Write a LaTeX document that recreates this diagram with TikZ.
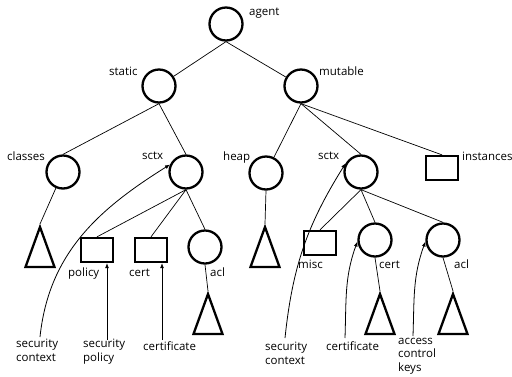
\documentclass[tikz,border=0pt]{standalone}
\usepackage{fontspec}
\setmainfont{Open Sans}
\usetikzlibrary{shapes.geometric, arrows.meta}

\begin{document}
\begin{tikzpicture}[
    x=1pt, y=-1pt,
    >={Latex[length=5pt,width=4pt]},
    obj/.style={circle, draw, line width=2.3pt, minimum size=33pt, inner sep=0pt},
    leaf/.style={rectangle, draw, line width=2.3pt, minimum width=32pt, minimum height=24pt, inner sep=0pt},
    tri/.style={isosceles triangle, isosceles triangle stretches, shape border rotate=90, draw, line width=2.3pt, minimum width=29pt, minimum height=40pt, inner sep=0pt, anchor=apex},
    tag/.style={inner sep=0pt, anchor=mid west, font=\fontsize{11.5}{14}\selectfont},
    note/.style={inner sep=0pt, anchor=west, align=left, font=\fontsize{11.5}{14}\selectfont},
    edge/.style={line width=0.7pt},
    link/.style={->, line width=0.8pt}
]
\useasboundingbox (0,0) rectangle (512,376);

% 1. top levels
\node[obj] (agent) at (226,24) {};
\node[obj] (static) at (159,86) {};
\node[obj] (mutable) at (301,86) {};

% 2. third level
\node[obj] (classes) at (63,172) {};
\node[obj] (sctxA) at (186,172) {};
\node[obj] (heap) at (266,173) {};
\node[obj] (sctxB) at (361,172) {};
\node[leaf] (inst) at (442,168) {};

% 3. under static sctx
\node[tri] (triClasses) at (40,224) {};
\node[leaf] (policy) at (97,250) {};
\node[leaf] (certA) at (151,250) {};
\node[obj] (aclA) at (205,247) {};
\node[tri] (triAclA) at (208,291) {};

% 4. under mutable sctx
\node[tri] (triHeap) at (265,224) {};
\node[leaf] (misc) at (320,243) {};
\node[obj] (certB) at (375,240) {};
\node[obj] (aclB) at (443,240) {};
\node[tri] (triCertB) at (380,291) {};
\node[tri] (triAclB) at (453,291) {};

% 5. names
\node[tag] (agentL) at (249,13) {agent};
\node[tag] (staticL) at (109,73) {static};
\node[tag] (mutableL) at (319,73) {mutable};
\node[tag] (classesL) at (7,158) {classes};
\node[tag] (sctxAL) at (142,157) {sctx};
\node[tag] (heapL) at (223,158) {heap};
\node[tag] (sctxBL) at (318,157) {sctx};
\node[tag] (instL) at (462,158) {instances};
\node[tag] (policyL) at (68,274) {policy};
\node[tag] (certAL) at (129,274) {cert};
\node[tag] (aclAL) at (210,274) {acl};
\node[tag] (miscL) at (298,266) {misc};
\node[tag] (certBL) at (379,266) {cert};
\node[tag] (aclBL) at (454,266) {acl};

% 6. notes at the bottom
\node[note] (ctxA) at (16,350) {security\\context};
\node[note] (secpol) at (83,352) {security\\policy};
\node[note] (certNoteA) at (143,346) {certificate};
\node[note] (ctxB) at (265,353) {security\\context};
\node[note] (certNoteB) at (326,346) {certificate};
\node[note, font=\fontsize{11.5}{13.5}\selectfont] (acck) at (398,356) {access\\control\\keys};

\coordinate (ctxAsrc) at (40,337);
\coordinate (polsrc) at (107,340);
\coordinate (certAsrc) at (162,340);
\coordinate (ctxBsrc) at (285,338);
\coordinate (certBsrc) at (345,338);
\coordinate (acckSrc) at (413,336);

% tree edges
\draw[edge] (agent.south) -- (static);
\draw[edge] (agent.south) -- (mutable);
\draw[edge] (static.south) -- (classes.north);
\draw[edge] (static.south) -- (sctxA.north);
\draw[edge] (mutable.south) -- (heap);
\draw[edge] (mutable.south) -- (sctxB.north);
\draw[edge] (mutable.south) -- (inst.north);
\draw[edge] (classes) -- (triClasses.apex);
\draw[edge] (sctxA.south) -- (policy.north);
\draw[edge] (sctxA.south) -- (certA.north);
\draw[edge] (sctxA.south) -- (aclA.north);
\draw[edge] (aclA.south) -- (triAclA.apex);
\draw[edge] (heap.south) -- (triHeap.apex);
\draw[edge] (sctxB.south) -- (misc.north);
\draw[edge] (sctxB.south) -- (certB.north);
\draw[edge] (sctxB.south) -- (aclB.north);
\draw[edge] (certB.south) -- (triCertB.apex);
\draw[edge] (aclB.south) -- (triAclB.apex);

% arrows from notes
\draw[link] (ctxAsrc) to[out=84, in=212] (sctxA.155);
\draw[link] (polsrc) -- (polsrc |- policy.south);
\draw[link] (certAsrc) -- (certAsrc |- certA.south);
\draw[link] (ctxBsrc) to[out=84, in=238] (sctxB.150);
\draw[link] (certBsrc) to[out=88, in=250] (certB.185);
\draw[link] (acckSrc) to[out=88, in=250] (aclB.185);

\end{tikzpicture}
\end{document}
